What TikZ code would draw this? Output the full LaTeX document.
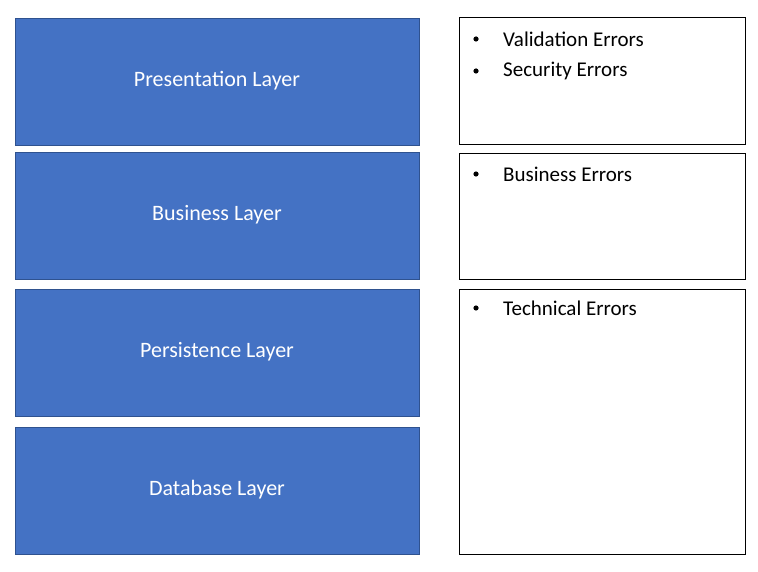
\documentclass[tikz,border=0pt]{standalone}
\usepackage{fontspec}
\setmainfont{Carlito}
\definecolor{lay}{HTML}{4472C4}
\definecolor{layb}{HTML}{2F528F}
\begin{document}
\begin{tikzpicture}[x=1pt,y=-1pt,
  layer/.style={draw=layb,fill=lay,line width=0.8pt},
  errbox/.style={draw=black,line width=0.8pt},
  ltxt/.style={text=white,font=\fontsize{22}{26}\selectfont},
  btxt/.style={anchor=west,font=\fontsize{21}{25}\selectfont,inner sep=0pt}]
\useasboundingbox (0,0) rectangle (758,572);
\draw[layer] (15,18) rectangle (419,145);
\draw[layer] (15,152) rectangle (419,279);
\draw[layer] (15,289) rectangle (419,416);
\draw[layer] (15,427) rectangle (419,554);
\node[ltxt] (p) at (217,81) {Presentation Layer};
\node[ltxt] (b) at (217,215) {Business Layer};
\node[ltxt] (s) at (217,352) {Persistence Layer};
\node[ltxt] (d) at (217,490) {Database Layer};
\draw[errbox] (459,17) rectangle (745,144);
\draw[errbox] (459,153) rectangle (745,279);
\draw[errbox] (459,289) rectangle (745,554);
\foreach \y/\t/\n in {39/Validation Errors/e1,71/Security Errors/e2,174/Business Errors/e3,308/Technical Errors/e4}{
  \fill (476,\y) circle (2.6);
  \node[btxt] (\n) at (503,\y) {\t};
}
\end{tikzpicture}
\end{document}
